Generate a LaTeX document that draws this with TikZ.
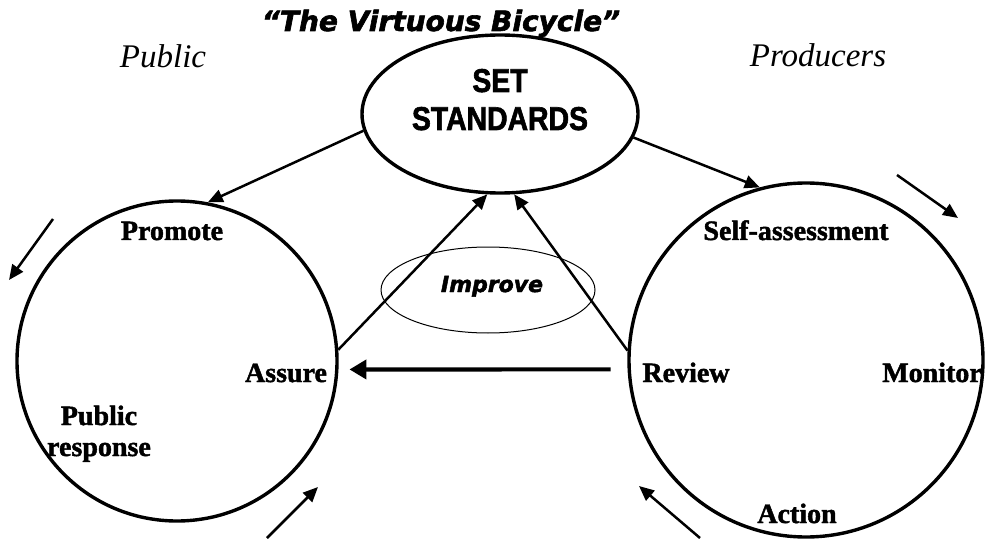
\documentclass[tikz,border=0pt]{standalone}
\usepackage{fontspec}
\setmainfont{Liberation Serif}
\newfontfamily\heavyfont{Liberation Serif}[BoldFeatures={FakeBold=1.6}]
\newfontfamily\blackfont{DejaVu Sans}[BoldItalicFeatures={FakeBold=2.2}]
\newfontfamily\condfont{Liberation Sans}[FakeStretch=0.86, BoldFeatures={FakeBold=1.8}]
\usetikzlibrary{arrows.meta, shapes.geometric, positioning}
\tikzset{
    ring/.style={draw, circle, line width=3.4pt, inner sep=0pt, minimum size=#1},
    oval/.style n args={3}{draw, ellipse, line width=#1, inner sep=0pt,
        minimum width=#2, minimum height=#3},
    barA/.style={line width=2.5pt, -{Triangle[length=15pt, width=13pt]}},
    barB/.style={line width=4.2pt, -{Triangle[length=17pt, width=19pt]}},
    tagH/.style={anchor=base, inner sep=0pt, font=\heavyfont\bfseries\fontsize{28}{30}\selectfont},
    tagS/.style={anchor=base, inner sep=0pt, font=\condfont\bfseries\fontsize{33}{36}\selectfont},
    tagI/.style={anchor=base, inner sep=0pt, font=\itshape\fontsize{33}{36}\selectfont},
    tagB/.style={anchor=base, inner sep=0pt, font=\blackfont\bfseries\itshape\fontsize{#1}{#1}\selectfont}
}
\begin{document}
\begin{tikzpicture}[x=1pt, y=-1pt]
    \useasboundingbox (0,0) rectangle (985,540);
    % the two wheels and the hub
    \node[ring=320pt] (pub) at (177,361) {};
    \node[ring=354pt] (prod) at (806,360) {};
    \node[oval={3.4pt}{276pt}{158pt}] (std) at (500,114) {};
    \node[oval={1pt}{214pt}{86pt}] (imp) at (488,290) {};
    % texts
    \node[tagB=28] (title) at (441,31) {“The Virtuous Bicycle”};
    \node[tagI] (lpub) at (163,68) {Public};
    \node[tagI] (lprod) at (818,67) {Producers};
    \node[tagS] (set) at (500,92) {SET};
    \node[tagS] (stds) at (500,130) {STANDARDS};
    \node[tagB=22] (improve) at (492,292) {Improve};
    \node[tagH] (promote) at (172,240) {Promote};
    \node[tagH] (assure) at (286,382) {Assure};
    \node[tagH] (presp1) at (99,425) {Public};
    \node[tagH] (presp2) at (99,456) {response};
    \node[tagH] (selfa) at (796,240) {Self-assessment};
    \node[tagH] (review) at (686,382) {Review};
    \node[tagH] (monitor) at (932,382) {Monitor};
    \node[tagH] (action) at (797,523) {Action};
    % connectors
    \draw[barA] (std.187) -- (pub.79);
    \draw[barA] (std.350) -- (prod.105);
    \draw[barA] (pub.4) -- (std.261);
    \draw[barA] (prod.177) -- (std.280);
    \draw[barB, shorten <=17pt, shorten >=11pt] (prod.183) -- (pub.357);
    % turning arrows
    \coordinate (t1a) at (53,219);  \coordinate (t1b) at (9,280);
    \coordinate (t2a) at (267,538); \coordinate (t2b) at (318,487);
    \coordinate (t3a) at (897,175); \coordinate (t3b) at (958,218);
    \coordinate (t4a) at (700,538); \coordinate (t4b) at (639,486);
    \foreach \a in {1,...,4}{
    \draw[barA] (t\a a) -- (t\a b);}
\end{tikzpicture}
\end{document}
